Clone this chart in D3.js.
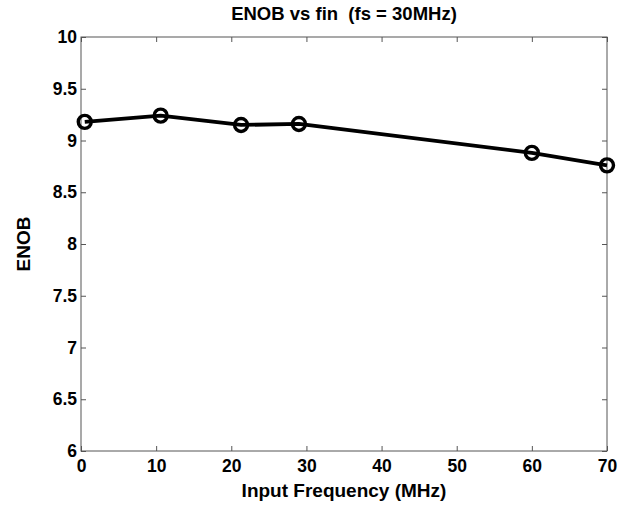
<!DOCTYPE html>
<meta charset="utf-8">
<script src="https://d3js.org/d3.v7.min.js"></script>
<style>
  body { margin: 0; background: #fff; }
  text { font-family: "Liberation Sans", Arial, Helvetica, sans-serif; font-weight: bold; }
</style>
<div id="chart"></div>
<script>
    // values
    const freq = [0.5, 10.6, 21.3, 29.0, 60.0, 70.0];
    const enob = [9.18, 9.24, 9.15, 9.16, 8.88, 8.76];
    const xTicks = [0, 10, 20, 30, 40, 50, 60, 70];
    const yTicks = [6, 6.5, 7, 7.5, 8, 8.5, 9, 9.5, 10];

    const margin = {top: 37, bottom: 55, left: 81, right: 19},
        width = 626 - margin.left - margin.right,
        height = 506 - margin.top - margin.bottom;

    const svg = d3.select("#chart")
      .append("svg")
        .attr("width", 626)
        .attr("height", 506)
      .append("g")
        .attr("transform", `translate(${margin.left},${margin.top})`);

    const x = d3.scaleLinear().domain([0, 70]).range([0, width]);
    const y = d3.scaleLinear().domain([6, 10]).range([height, 0]);

    // frame
    svg.append("rect")
        .attr("width", width).attr("height", height)
        .attr("fill", "none").attr("stroke", "#555").attr("stroke-width", 1);

    const fmt = d => d3.format("~g")(d);

    // bottom / left axes with inward ticks, top / right mirrored ticks
    const xb = svg.append("g").attr("transform", `translate(0,${height})`)
        .call(d3.axisBottom(x).tickValues(xTicks).tickFormat(fmt).tickSizeInner(-5).tickSizeOuter(0).tickPadding(9));
    const xt = svg.append("g")
        .call(d3.axisTop(x).tickValues(xTicks).tickFormat("").tickSizeInner(-5).tickSizeOuter(0));
    const yl = svg.append("g")
        .call(d3.axisLeft(y).tickValues(yTicks).tickFormat(fmt).tickSizeInner(-5).tickSizeOuter(0).tickPadding(4));
    const yr = svg.append("g").attr("transform", `translate(${width},0)`)
        .call(d3.axisRight(y).tickValues(yTicks).tickFormat("").tickSizeInner(-5).tickSizeOuter(0));

    [xb, xt, yl, yr].forEach(g => {
        g.select(".domain").remove();
        g.selectAll(".tick line").attr("stroke", "#555");
        g.selectAll(".tick text").attr("fill", "#000").attr("font-size", 17.5)
            .style("font-size", "17.5px")
            .style("font-family", "'Liberation Sans', Arial, sans-serif").style("font-weight", "bold");
    });

    const pts = freq.map((f, i) => ({f: f, e: enob[i]}));

    svg.append("path")
        .datum(pts)
        .attr("fill", "none")
        .attr("stroke", "#000")
        .attr("stroke-width", 3.8)
        .attr("stroke-linejoin", "round")
        .attr("d", d3.line().x(d => x(d.f)).y(d => y(d.e)));

    svg.append("g")
        .selectAll("circle")
        .data(pts)
        .join("circle")
            .attr("cx", d => x(d.f))
            .attr("cy", d => y(d.e))
            .attr("r", 6.5)
            .attr("fill", "none")
            .attr("stroke", "#000")
            .attr("stroke-width", 3.4);

    svg.append("text")
        .attr("x", width / 2)
        .attr("y", -17)
        .attr("text-anchor", "middle")
        .style("font-size", "18.5px")
        .style("white-space", "pre")
        .text("ENOB vs fin  (fs = 30MHz)");

    svg.append("text")
        .attr("x", width / 2)
        .attr("y", height + 46)
        .attr("text-anchor", "middle")
        .style("font-size", "19px")
        .text("Input Frequency (MHz)");

    svg.append("text")
        .attr("transform", "rotate(-90)")
        .attr("x", -height / 2)
        .attr("y", -51)
        .attr("text-anchor", "middle")
        .style("font-size", "19px")
        .text("ENOB");
</script>
